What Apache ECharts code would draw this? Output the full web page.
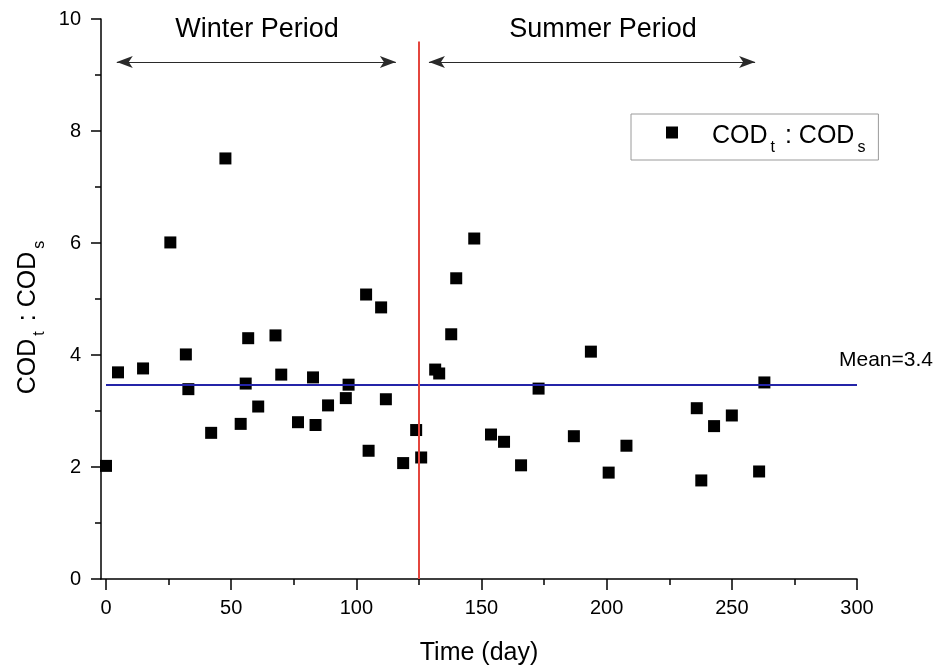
<!DOCTYPE html>
<html>
<head>
<meta charset="utf-8">
<script src="https://cdn.jsdelivr.net/npm/echarts@6/dist/echarts.min.js"></script>
<style>
  html, body { margin: 0; padding: 0; background: #ffffff; }
  #chart { width: 938px; height: 668px; }
</style>
</head>
<body>
<div id="chart"></div>
<script>
// Sampling day and total-to-soluble COD ratio for each sample
const days = [0, 4.8, 14.8, 25.7, 31.9, 32.9, 42.0, 47.7, 53.8, 55.8, 56.8, 60.8, 67.7, 70.0,
  76.7, 82.7, 83.7, 88.7, 95.8, 96.9, 103.9, 104.9, 109.9, 111.8, 118.7, 123.9, 125.9,
  131.5, 133.1, 137.9, 139.9, 147.1, 153.8, 159.0, 165.8, 172.8, 186.9, 193.7, 200.8,
  207.9, 236.0, 237.8, 242.9, 250.0, 260.9, 263.0];
const ratio = [2.02, 3.69, 3.76, 6.01, 4.01, 3.39, 2.61, 7.51, 2.77, 3.49, 4.30, 3.08, 4.35, 3.65,
  2.80, 3.60, 2.75, 3.10, 3.23, 3.47, 5.08, 2.29, 4.85, 3.21, 2.07, 2.66, 2.17,
  3.74, 3.67, 4.37, 5.37, 6.08, 2.58, 2.45, 2.03, 3.40, 2.55, 4.06, 1.90,
  2.38, 3.05, 1.76, 2.73, 2.92, 1.92, 3.51];

// Axis ticks
const xMajorTicks = [0, 50, 100, 150, 200, 250, 300];
const xMinorTicks = [25, 75, 125, 175, 225, 275];

// Reference lines and period annotations
const meanRatio = 3.46;
const meanSpan = [0, 300];
const boundaryDay = 125;
const boundaryTop = 9.6;
const arrowLevel = 9.23;
const winterSpan = [4.3, 115.8];
const summerSpan = [129, 259.3];
const periodNames = ['Winter Period', 'Summer Period'];
const seriesName = 'COD_t : COD_s';

const FONT = '"Liberation Sans", Arial, Helvetica, sans-serif';
// Rich text pieces: main text and lowered subscripts
const ratioRich = {
  m: { fontFamily: FONT, fontSize: 25, lineHeight: 25, verticalAlign: 'middle', padding: [8, 0, 0, 0], color: '#000' },
  s: { fontFamily: FONT, fontSize: 16, lineHeight: 16, verticalAlign: 'top', padding: [20, 3, 0, 3], color: '#000' }
};
const ratioLabel = '{m|COD}{s|t}{m| : COD}{s|s}';

const points = days.map((d, i) => [d, ratio[i]]);
const meanText = 'Mean=' + (Math.floor(meanRatio * 10) / 10).toFixed(1);

const tickStyle = { color: '#000', width: 1.5 };
const chart = echarts.init(document.getElementById('chart'), null, { renderer: 'canvas' });

chart.setOption({
  animation: false,
  backgroundColor: '#ffffff',
  grid: { left: 101, right: 81, top: 19, bottom: 89, containLabel: false, outerBoundsMode: 'none' },
  legend: {
    data: [seriesName],
    left: 631, top: 114,
    padding: [2, 10, 4, 35],
    icon: 'rect', itemWidth: 12, itemHeight: 12,
    borderColor: '#9a9a9a', borderWidth: 1,
    selectedMode: false,
    formatter: () => '{g|}' + ratioLabel,
    textStyle: { fontFamily: FONT, fontSize: 25, color: '#000', rich: Object.assign({ g: { width: 29 } }, ratioRich) }
  },
  xAxis: [
    {
      type: 'value', min: -2, max: 300, position: 'bottom',
      axisLine: { show: true, onZero: false, lineStyle: tickStyle },
      axisTick: { show: true, length: 11, customValues: xMajorTicks, lineStyle: tickStyle },
      axisLabel: { customValues: xMajorTicks, fontFamily: FONT, fontSize: 20, color: '#000', margin: 19 },
      splitLine: { show: false },
      name: 'Time (day)', nameLocation: 'middle', nameGap: 62,
      nameTextStyle: { fontFamily: FONT, fontSize: 25, color: '#000' }
    },
    {
      type: 'value', min: -2, max: 300, position: 'bottom',
      axisLine: { show: false, onZero: false },
      axisTick: { show: true, length: 6, customValues: xMinorTicks, lineStyle: tickStyle },
      axisLabel: { show: false },
      splitLine: { show: false }
    }
  ],
  yAxis: {
    type: 'value', min: 0, max: 10, interval: 2,
    axisLine: { show: true, onZero: false, lineStyle: tickStyle },
    axisTick: { show: true, length: 10, lineStyle: tickStyle },
    minorTick: { show: true, splitNumber: 2, length: 6, lineStyle: tickStyle },
    axisLabel: { fontFamily: FONT, fontSize: 20, color: '#000', margin: 20 },
    splitLine: { show: false },
    minorSplitLine: { show: false },
    name: ratioLabel, nameLocation: 'middle', nameRotate: 90, nameGap: 45,
    nameTextStyle: { fontFamily: FONT, fontSize: 25, color: '#000', rich: ratioRich, padding: [0, 34, 0, 0] }
  },
  graphic: [
    { type: 'text', x: 257, y: 30, style: { text: periodNames[0], fontFamily: FONT, fontSize: 27, fill: '#000', align: 'center', verticalAlign: 'middle' } },
    { type: 'text', x: 603, y: 30, style: { text: periodNames[1], fontFamily: FONT, fontSize: 27, fill: '#000', align: 'center', verticalAlign: 'middle' } }
  ],
  series: [
    {
      name: seriesName,
      type: 'scatter',
      symbol: 'rect',
      symbolSize: 12,
      itemStyle: { color: '#000', opacity: 1 },
      data: points,
      markLine: {
        silent: true,
        symbol: 'none',
        label: { show: false },
        data: [
          [
            { coord: [meanSpan[0], meanRatio], lineStyle: { color: '#2424a8', width: 2, type: 'solid' } },
            { coord: [meanSpan[1], meanRatio] }
          ],
          [
            { coord: [boundaryDay, 0], lineStyle: { color: '#e4463e', width: 2, type: 'solid' } },
            { coord: [boundaryDay, boundaryTop] }
          ],
          [
            { coord: [winterSpan[0], arrowLevel], symbol: 'arrow', symbolSize: [9, 16], lineStyle: { color: '#2a2a2a', width: 1, type: 'solid' } },
            { coord: [winterSpan[1], arrowLevel], symbol: 'arrow', symbolSize: [9, 16] }
          ],
          [
            { coord: [summerSpan[0], arrowLevel], symbol: 'arrow', symbolSize: [9, 16], lineStyle: { color: '#2a2a2a', width: 1, type: 'solid' } },
            { coord: [summerSpan[1], arrowLevel], symbol: 'arrow', symbolSize: [9, 16] }
          ]
        ]
      },
      markPoint: {
        silent: true,
        symbol: 'rect',
        symbolSize: 0,
        data: [{ coord: [meanSpan[1], meanRatio] }],
        label: {
          show: true, position: 'inside', offset: [29, -25],
          formatter: meanText,
          fontFamily: FONT, fontSize: 21, color: '#000'
        }
      }
    }
  ]
});
</script>
</body>
</html>
